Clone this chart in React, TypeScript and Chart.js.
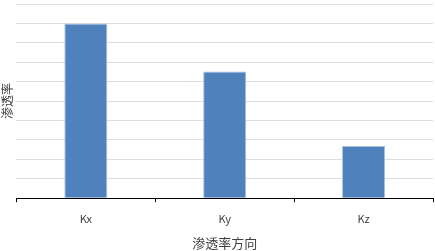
import React, { useEffect, useRef } from "react";
import { Chart, registerables } from "chart.js";

Chart.register(...registerables);

const categories = ["Kx", "Ky", "Kz"];
const permeability = [9, 6.52, 2.69];
const yMax = 10;

const FONT = '"Noto Sans CJK SC", "Noto Sans", sans-serif';

export default function App() {
  const ref = useRef<HTMLCanvasElement | null>(null);

  useEffect(() => {
    document.body.style.margin = "0";
    const ctx = ref.current!;
    const chart = new Chart(ctx, {
      type: "bar",
      data: {
        labels: categories,
        datasets: [
          {
            data: permeability,
            backgroundColor: "#4F81BD",
            borderColor: "#A7BFDE",
            borderWidth: 1,
            categoryPercentage: 1,
            barPercentage: 0.31,
          },
        ],
      },
      options: {
        animation: false,
        responsive: false,
        maintainAspectRatio: false,
        layout: { padding: { top: 4, right: 2, left: 0, bottom: 0 } },
        plugins: { legend: { display: false }, tooltip: { enabled: false } },
        scales: {
          x: {
            grid: {
              drawOnChartArea: false,
              drawTicks: true,
              tickLength: 4,
              color: "#000000",
              offset: true,
            },
            border: { display: true, color: "#000000", width: 1 },
            ticks: {
              color: "#404040",
              font: { family: FONT, size: 11 },
              padding: 10,
            },
            title: {
              display: true,
              text: "渗透率方向",
              color: "#404040",
              font: { family: FONT, size: 13 },
              padding: { top: 0, bottom: 0 },
            },
          },
          y: {
            min: 0,
            max: yMax,
            ticks: { display: false, stepSize: 1 },
            grid: { color: "#DEDEDE", drawTicks: false, lineWidth: 1 },
            border: { display: false },
            title: {
              display: true,
              text: "渗透率",
              color: "#404040",
              font: { family: FONT, size: 12 },
              padding: { top: 0, bottom: 2 },
            },
          },
        },
      },
    });
    return () => chart.destroy();
  }, []);

  return (
    <div style={{ width: 435, height: 251, background: "#fff" }}>
      <canvas ref={ref} width={435} height={251} style={{ display: "block" }} />
    </div>
  );
}
